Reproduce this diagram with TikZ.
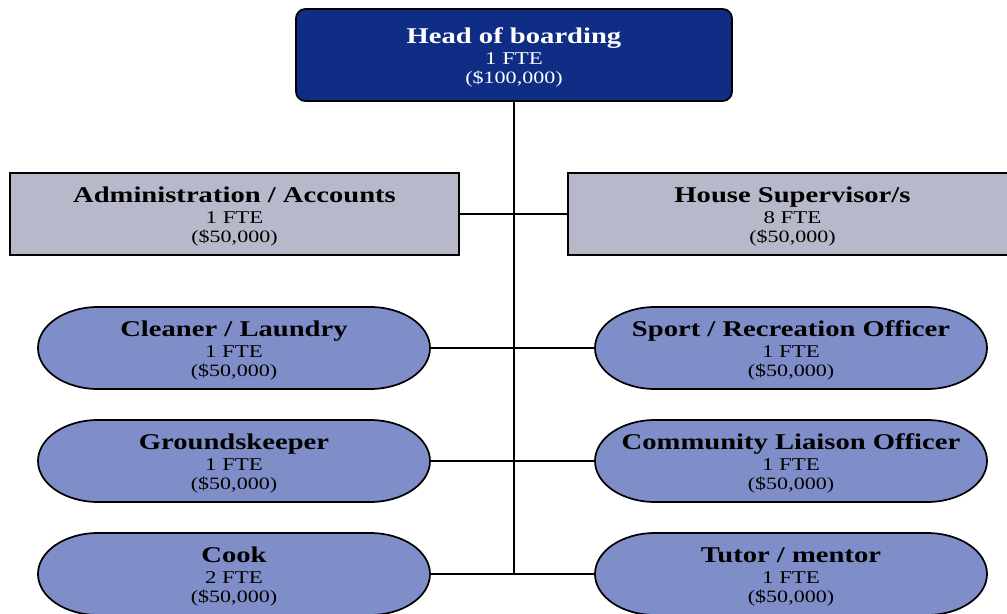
\documentclass[tikz,border=0pt]{standalone}
\usepackage{fontspec}
\setmainfont{Liberation Serif}[FakeStretch=1.27]
\usetikzlibrary{backgrounds}

\definecolor{headblue}{RGB}{16,45,133}
\definecolor{deptgrey}{RGB}{183,185,203}
\definecolor{staffblue}{RGB}{127,142,200}

% lines stack by their struts alone
\newcommand{\strutstack}{\baselineskip=0pt\relax\lineskip=0pt\relax\lineskiplimit=0pt\relax}

% three-line role label: title, head count, salary;
% struts fix every baseline so all labels sit alike
\newcommand{\roletext}[3]{%
  {\fontsize{16.9}{16}\selectfont\bfseries\rule[-4pt]{0pt}{20.5pt}#1}\\
  {\fontsize{13.5}{14}\selectfont\rule[-3pt]{0pt}{15.1pt}#2}\\
  {\fontsize{13}{14}\selectfont\rule[-4pt]{0pt}{15.1pt}#3}}

% pill outline with elliptical ends, drawn behind a staff node
\newcommand{\pilloutline}[1]{%
  \path[pillshape] ([xshift=45pt]#1.north west) -- ([xshift=-45pt]#1.north east)
    arc[start angle=90, end angle=-90, x radius=45pt, y radius=30.75pt]
    -- ([xshift=45pt]#1.south west)
    arc[start angle=270, end angle=90, x radius=45pt, y radius=30.75pt] -- cycle;}

\begin{document}
\begin{tikzpicture}[x=0.75pt, y=-0.75pt, line width=1.3pt,
  rolebox/.style={draw=black, line width=1.3pt, align=center, inner sep=0pt, font=\strutstack},
  headbox/.style={rolebox, fill=headblue, text=white, rounded corners=7pt,
    minimum width=327pt, minimum height=69pt},
  deptbox/.style={rolebox, fill=deptgrey, minimum width=336.75pt, minimum height=61.5pt},
  staffbox/.style={align=center, inner sep=0pt, outer sep=0pt, font=\strutstack,
    minimum width=294pt, minimum height=61.5pt},
  pillshape/.style={draw=black, fill=staffblue, line width=1.3pt, line join=round},
  link/.style={draw=black, line width=1.3pt}]
\clip (0,0) rectangle (1007,614);

% top of the hierarchy
\node[headbox] (head) at (514,55) {\roletext{Head of boarding}{1 FTE}{(\$100,000)}};

% second tier
\node[deptbox] (admin) at (234.5,214) {\roletext{Administration / Accounts}{1 FTE}{(\$50,000)}};
\node[deptbox] (house) at (792.5,214) {\roletext{House Supervisor/s}{8 FTE}{(\$50,000)}};

% support staff
\node[staffbox] (clean)   at (234,348) {\roletext{Cleaner / Laundry}{1 FTE}{(\$50,000)}};
\node[staffbox] (ground)  at (234,461) {\roletext{Groundskeeper}{1 FTE}{(\$50,000)}};
\node[staffbox] (cook)    at (234,574) {\roletext{Cook}{2 FTE}{(\$50,000)}};
\node[staffbox] (sport)   at (791,348) {\roletext{Sport / Recreation Officer}{1 FTE}{(\$50,000)}};
\node[staffbox] (liaison) at (791,461) {\roletext{Community Liaison Officer}{1 FTE}{(\$50,000)}};
\node[staffbox] (tutor)   at (791,574) {\roletext{Tutor / mentor}{1 FTE}{(\$50,000)}};

\begin{scope}[on background layer]
  \pilloutline{clean}
  \pilloutline{ground}
  \pilloutline{cook}
  \pilloutline{sport}
  \pilloutline{liaison}
  \pilloutline{tutor}
\end{scope}

% reporting lines
\coordinate (spineend) at (514,574);
\draw[link] (head.south) -- (spineend);
\draw[link] (admin.east) -- (house.west);
\draw[link] (clean.east) -- (sport.west);
\draw[link] (ground.east) -- (liaison.west);
\draw[link] (cook.east) -- (tutor.west);
\end{tikzpicture}
\end{document}
